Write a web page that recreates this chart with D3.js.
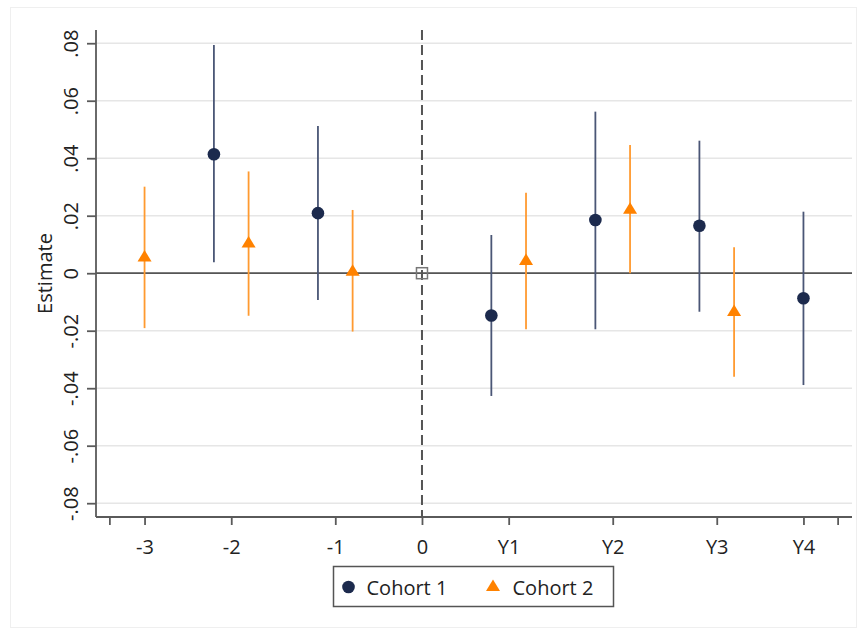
<!DOCTYPE html>
<html>
<head>
<meta charset="utf-8">
<script src="https://cdn.jsdelivr.net/npm/d3@7"></script>
<style>
  body { margin: 0; background: #fff; }
  text { font-family: "Open Sans", sans-serif; fill: #222; }
</style>
</head>
<body>
<script>
// event-study style estimates
var categories = ["-3", "-2", "-1", "0", "Y1", "Y2", "Y3", "Y4"];
var refCategory = "0";

var cohort1Est  = [null, 0.0414, 0.0209, null, -0.0147, 0.0185, 0.0165, -0.0087];
var cohort1Low  = [null, 0.0038, -0.0093, null, -0.0427, -0.0195, -0.0134, -0.0389];
var cohort1High = [null, 0.0794, 0.0512, null, 0.0133, 0.0562, 0.0461, 0.0214];

var cohort2Est  = [0.0060, 0.0109, 0.0010, null, 0.0048, 0.0226, -0.0130, null];
var cohort2Low  = [-0.0191, -0.0148, -0.0203, null, -0.0195, 0.0000, -0.0360, null];
var cohort2High = [0.0301, 0.0354, 0.0220, null, 0.0280, 0.0446, 0.0090, null];

var seriesNames = ["Cohort 1", "Cohort 2"];
var yTicks = [-0.08, -0.06, -0.04, -0.02, 0, 0.02, 0.04, 0.06, 0.08];
var yTickLabels = ["-.08", "-.06", "-.04", "-.02", "0", ".02", ".04", ".06", ".08"];

var navy = "#1c2a4d", navyLine = "#4a5676";
var orange = "#ff8200", orangeLine = "#ff9a30";

var W = 865, H = 633;
var svg = d3.select("body").append("svg").attr("width", W).attr("height", H);

// faint outer frame
svg.append("rect").attr("x", 10.5).attr("y", 7.5).attr("width", 846).attr("height", 620)
  .style("fill", "none").style("stroke", "#efefef");

// lay the points out in slots, one gap slot between categories (like coefplot)
var points = [];   // {cat, series, slot, est, lo, hi}
var catSlots = {}; // category -> list of slots
var slot = 0;
categories.forEach(function(c, i) {
  catSlots[c] = [];
  if (c === refCategory) {
    points.push({cat: c, series: "ref", slot: slot, est: 0});
    catSlots[c].push(slot); slot++;
  }
  if (cohort1Est[i] !== null) {
    points.push({cat: c, series: 0, slot: slot, est: cohort1Est[i], lo: cohort1Low[i], hi: cohort1High[i]});
    catSlots[c].push(slot); slot++;
  }
  if (cohort2Est[i] !== null) {
    points.push({cat: c, series: 1, slot: slot, est: cohort2Est[i], lo: cohort2Low[i], hi: cohort2High[i]});
    catSlots[c].push(slot); slot++;
  }
  slot++;
});
var lastSlot = slot - 2;

// plot box (note: "top" is taken by window.top, so prefixed names)
var pLeft = 96, pRight = 852, pTop = 30, pBottom = 517;
var x = d3.scaleLinear().domain([-1.4, lastSlot + 1.4]).range([pLeft, pRight]);
var y = d3.scaleLinear().domain([-0.0848, 0.0846]).range([pBottom, pTop]);

// gridlines
svg.append("g").selectAll("line").data(yTicks).join("line")
  .attr("x1", pLeft).attr("x2", pRight)
  .attr("y1", function(d) { return y(d); }).attr("y2", function(d) { return y(d); })
  .style("stroke", "#e6e6e6").style("stroke-width", 1.5);

// zero line
svg.append("line").attr("x1", pLeft).attr("x2", pRight).attr("y1", y(0)).attr("y2", y(0))
  .style("stroke", "#555").style("stroke-width", 1.8);

// y axis
var yAxis = d3.axisLeft(y).tickValues(yTicks).tickSize(9)
  .tickFormat(function(d, i) { return yTickLabels[i]; });
var gy = svg.append("g").attr("transform", "translate(" + pLeft + ",0)").call(yAxis);
gy.select(".domain").attr("d", "M0," + pTop + "V" + pBottom);
gy.selectAll("text").remove();
gy.selectAll(".tick").append("text")
  .attr("transform", "translate(-18,0) rotate(-90)")
  .attr("text-anchor", "middle")
  .style("font-size", "20px")
  .text(function(d, i) { return yTickLabels[i]; });

// x axis: labels at the middle of each category's slots
var catPos = categories.map(function(c) { return d3.mean(catSlots[c]); });
var xAxis = d3.axisBottom(x).tickValues(catPos).tickSize(8)
  .tickFormat(function(d, i) { return categories[i]; });
var gx = svg.append("g").attr("transform", "translate(0," + pBottom + ")").call(xAxis);
gx.select(".domain").attr("d", "M" + pLeft + ",0H" + pRight);
gx.selectAll("text").attr("dy", null).attr("y", 37).style("font-size", "20px").style("fill", "#222");
// small end ticks
gx.selectAll(".endtick").data([-1, lastSlot + 1]).join("line").attr("class", "endtick")
  .attr("x1", function(d) { return x(d); }).attr("x2", function(d) { return x(d); })
  .attr("y1", 0).attr("y2", 8);

svg.selectAll(".domain, .tick line, .endtick").style("stroke", "#5a5a5a").style("stroke-width", 1.8);

// dashed reference line at the omitted category
var refX = x(catSlots[refCategory][0]);
svg.append("line").attr("x1", refX).attr("x2", refX).attr("y1", pTop).attr("y2", pBottom)
  .style("stroke", "#555").style("stroke-width", 2).style("stroke-dasharray", "10,5");

// triangle centred on its box
var tri = function(cx, cy) {
  return "M" + cx + "," + (cy - 6) + "L" + (cx + 7) + "," + (cy + 5.5) + "L" + (cx - 7) + "," + (cy + 5.5) + "Z";
};

var est = points.filter(function(p) { return p.series !== "ref"; });

// confidence intervals
svg.append("g").selectAll("line").data(est).join("line")
  .attr("x1", function(d) { return x(d.slot); }).attr("x2", function(d) { return x(d.slot); })
  .attr("y1", function(d) { return y(d.hi); }).attr("y2", function(d) { return y(d.lo); })
  .style("stroke", function(d) { return d.series === 0 ? navyLine : orangeLine; })
  .style("stroke-width", 1.8);

// markers
svg.append("g").selectAll("circle").data(est.filter(function(d) { return d.series === 0; })).join("circle")
  .attr("cx", function(d) { return x(d.slot); }).attr("cy", function(d) { return y(d.est); })
  .attr("r", 6.3).style("fill", navy);
svg.append("g").selectAll("path").data(est.filter(function(d) { return d.series === 1; })).join("path")
  .attr("d", function(d) { return tri(x(d.slot), y(d.est)); })
  .style("fill", orange);

// reference square
svg.append("rect").attr("x", refX - 5.5).attr("y", y(0) - 5.5).attr("width", 11).attr("height", 11)
  .style("fill", "none").style("stroke", "#777").style("stroke-width", 1.5);

// y title
svg.append("text").attr("transform", "translate(52," + ((pTop + pBottom) / 2) + ") rotate(-90)")
  .attr("text-anchor", "middle").style("font-size", "20px").text("Estimate");

// legend
var lg = svg.append("g").attr("transform", "translate(333.5,566.5)");
lg.append("rect").attr("width", 280).attr("height", 40)
  .style("fill", "#fff").style("stroke", "#555").style("stroke-width", 1.5);
lg.append("circle").attr("cx", 15).attr("cy", 20.5).attr("r", 6.3).style("fill", navy);
lg.append("text").attr("x", 33).attr("y", 28).style("font-size", "20px").text(seriesNames[0]);
lg.append("path").attr("d", tri(159.5, 19)).style("fill", orange);
lg.append("text").attr("x", 179).attr("y", 28).style("font-size", "20px").text(seriesNames[1]);
</script>
</body>
</html>
